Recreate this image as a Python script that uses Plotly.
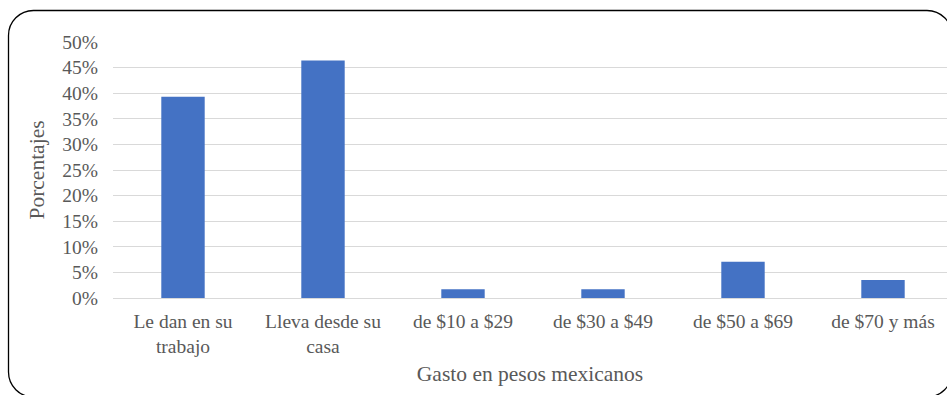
import plotly.graph_objects as go

categories = ["Le dan en su<br>trabajo", "Lleva desde su<br>casa", "de $10 a $29",
              "de $30 a $49", "de $50 a $69", "de $70 y más"]
values = [0.393, 0.464, 0.017, 0.017, 0.071, 0.035]
x_title = "Gasto en pesos mexicanos"
y_title = "Porcentajes"

W, H = 947, 395
ML, MR, MT = 113, 0, 42
MB = H - 298
PW, PH = W - ML - MR, H - MT - MB

FONT = "Liberation Serif, Times New Roman, serif"
GREY = "#595959"

fig = go.Figure(go.Bar(
    x=list(range(len(categories))), y=values,
    marker=dict(color="#4472C4", line=dict(width=0)),
    hoverinfo="skip",
))

def px(x):
    return (x - ML) / PW

def py(y):
    return (H - MB - y) / PH

L, T, R, B, r = 8.5, 10.5, 952, 397, 25
k = 0.5523
path = (
    f"M {px(L)},{py(T + r)} "
    f"C {px(L)},{py(T + r - k * r)} {px(L + r - k * r)},{py(T)} {px(L + r)},{py(T)} "
    f"L {px(R - r)},{py(T)} "
    f"C {px(R - r + k * r)},{py(T)} {px(R)},{py(T + r - k * r)} {px(R)},{py(T + r)} "
    f"L {px(R)},{py(B - r)} "
    f"C {px(R)},{py(B - r + k * r)} {px(R - r + k * r)},{py(B)} {px(R - r)},{py(B)} "
    f"L {px(L + r)},{py(B)} "
    f"C {px(L + r - k * r)},{py(B)} {px(L)},{py(B - r + k * r)} {px(L)},{py(B - r)} Z"
)

fig.update_layout(
    width=W, height=H,
    margin=dict(l=ML, r=MR, t=MT, b=MB, pad=0),
    paper_bgcolor="white", plot_bgcolor="white",
    font=dict(family=FONT, color=GREY, size=19.5),
    bargap=0.69,
    showlegend=False,
    shapes=[dict(type="path", path=path, xref="paper", yref="paper",
                 line=dict(color="black", width=1.3), layer="above")],
)

fig.update_xaxes(
    range=[-0.5, -0.5 + PW / 140],
    tickmode="array", tickvals=list(range(len(categories))), ticktext=categories,
    showgrid=False, zeroline=False, showline=False, ticks="",
    tickfont=dict(size=19.5, color=GREY, family=FONT),
    ticklabelstandoff=9,
    title=dict(text=x_title, font=dict(size=21.5, color=GREY, family=FONT), standoff=10),
    automargin=False, fixedrange=True,
)

fig.update_yaxes(
    range=[0, 0.5], dtick=0.05, tickformat=".0%",
    showgrid=True, gridcolor="#D9D9D9", gridwidth=1.3,
    zeroline=True, zerolinecolor="#D9D9D9", zerolinewidth=1.3,
    showline=False, ticks="",
    tickfont=dict(size=19.5, color=GREY, family=FONT),
    ticklabelstandoff=14,
    title=dict(text=y_title, font=dict(size=21.5, color=GREY, family=FONT), standoff=11),
    automargin=False, fixedrange=True,
)

fig.write_html(
    "out.html",
    config=dict(displayModeBar=False),
    post_script="document.documentElement.style.overflow='hidden';"
                "document.body.style.margin='0';document.body.style.overflow='hidden';",
)
